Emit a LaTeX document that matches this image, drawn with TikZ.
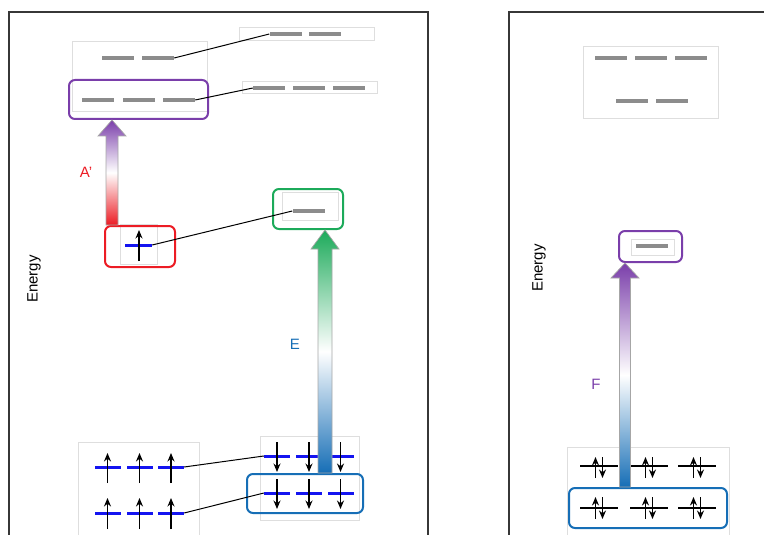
\documentclass[tikz,border=0pt]{standalone}
\usepackage{fontspec}
\setmainfont{Liberation Sans}
\usetikzlibrary{calc,arrows.meta}
\definecolor{cpurple}{RGB}{122,62,170}
\definecolor{cred}{RGB}{236,28,36}
\definecolor{cgreen}{RGB}{28,170,90}
\definecolor{cblue}{RGB}{22,110,182}
\definecolor{lvlgray}{RGB}{140,140,140}
\definecolor{lvlblue}{RGB}{20,20,240}
\definecolor{lightbox}{RGB}{222,222,222}
\definecolor{framec}{RGB}{55,55,55}
\tikzset{
  x=1pt, y=1pt,
  frame/.style={draw=framec, line width=1.5pt},
  lbox/.style={draw=lightbox, line width=0.6pt, inner sep=0pt},
  rbox/.style={rounded corners=6pt, line width=2pt, inner sep=0pt},
  glvl/.style={fill=lvlgray, minimum width=32pt, minimum height=3.6pt, inner sep=0pt},
  blvl/.style={fill=lvlblue, minimum width=26pt, minimum height=3pt, inner sep=0pt},
  klvl/.style={fill=black, minimum width=38pt, minimum height=2pt, inner sep=0pt},
  spin/.style={-{Stealth[length=8.5pt,width=7pt]}, line width=1.2pt},
  link/.style={draw=black, line width=1pt},
  lab/.style={font=\fontsize{15}{18}\selectfont, inner sep=0pt},
}
\newcommand\gradarrow[8]{%
  \shade[draw=gray!70, line width=0.7pt, top color=#3, bottom color=#4, middle color=white]
  let \p1=#1, \p2=#2 in
  ({\x1-#5pt},\y1) -- ({\x1-#5pt},{\y2-#7pt}) -- ({\x1-#6pt},{\y2-#7pt}) -- (\x1,\y2)
  -- ({\x1+#6pt},{\y2-#7pt}) -- ({\x1+#5pt},{\y2-#7pt}) -- ({\x1+#5pt},\y1) -- cycle;}
\begin{document}
\begin{tikzpicture}
\useasboundingbox (0,0) rectangle (764,-535);
% frames
\draw[frame] (9,-545) -- (9,-12) -- (428,-12) -- (428,-545);
\draw[frame] (509,-545) -- (509,-12) -- (775,-12);
% ---------- left panel ----------
\node[lbox, minimum width=135pt, minimum height=70pt] (tb1) at (139.5,-76) {};
\node[glvl] (t1a) at (118,-58) {};
\node[glvl] (t1b) at (158,-58) {};
\node[rbox, draw=cpurple, minimum width=139pt, minimum height=39pt] (pbox) at (138.5,-99.5) {};
\node[glvl] (t2a) at (98,-100) {};
\node[glvl] (t2b) at (138.5,-100) {};
\node[glvl] (t2c) at (179,-100) {};
\node[lbox, minimum width=135pt, minimum height=13pt] (rb1) at (306.5,-33.5) {};
\node[glvl] (r1a) at (285.5,-34) {};
\node[glvl] (r1b) at (325,-34) {};
\node[lbox, minimum width=135pt, minimum height=12pt] (rb2) at (309.5,-87) {};
\node[glvl] (r2a) at (269,-88) {};
\node[glvl] (r2b) at (309,-88) {};
\node[glvl] (r2c) at (349,-88) {};
\draw[link] (t1b.east) -- (r1a.west);
\draw[link] (t2c.east) -- (r2a.west);
% red box
\node[lbox, minimum width=37pt, minimum height=40pt] (rin) at (138.5,-244) {};
\node[rbox, draw=cred, minimum width=70pt, minimum height=41pt] (redbox) at (140,-246.5) {};
\node[blvl, minimum width=27pt] (s1) at (138.5,-245) {};
\draw[spin] (139,-261) -- (139,-230);
% green box
\node[lbox, minimum width=56pt, minimum height=28pt] (gin) at (310,-206) {};
\node[rbox, draw=cgreen, minimum width=70pt, minimum height=40pt] (greenbox) at (308,-209) {};
\node[glvl] (g1) at (308.5,-211) {};
\draw[link] (s1.east) -- (g1.west);
% bottom left box
\node[lbox, minimum width=121pt, minimum height=98pt] (bl) at (138.5,-491) {};
\foreach \i/\x in {1/107.5,2/139.5,3/171}{
  \node[blvl] (u1\i) at (\x,-467) {};
  \draw[spin] (\x,-483) -- (\x,-453);
  \node[blvl] (u2\i) at (\x,-513) {};
  \draw[spin] (\x,-529) -- (\x,-498);
}
% bottom right box
\node[lbox, minimum width=99pt, minimum height=84pt] (br) at (309.5,-478) {};
\node[rbox, draw=cblue, minimum width=116pt, minimum height=39pt] (bluebox) at (305,-493.5) {};
\foreach \i/\x in {1/277,2/309,3/340.5}{
  \node[blvl] (d1\i) at (\x,-456) {};
  \draw[spin] (\x,-442) -- (\x,-472);
  \node[blvl] (d2\i) at (\x,-493) {};
  \draw[spin] (\x,-479) -- (\x,-509);
}
\draw[link] (u13.east) -- (d11.west);
\draw[link] (u23.east) -- (d21.west);
% transition arrows left
\gradarrow{($(redbox.north west)+(8,0)$)}{(pbox.south)}{cpurple}{cred}{6}{14}{16}{}
\gradarrow{($(bluebox.north)+(20,0)$)}{(greenbox.south)}{cgreen}{cblue}{7}{14}{19}{}
\node[lab, text=cred] (lA) at (86,-172) {A’};
\node[lab, text=cblue] (lE) at (295,-344) {E};
\node[lab, rotate=90] (en1) at (34,-279) {Energy};
% ---------- right panel ----------
\node[lbox, minimum width=135pt, minimum height=72pt] (rt) at (650.5,-82) {};
\node[glvl] (q1a) at (611,-58) {};
\node[glvl] (q1b) at (651,-58) {};
\node[glvl] (q1c) at (691,-58) {};
\node[glvl] (q2a) at (632,-101) {};
\node[glvl] (q2b) at (672,-101) {};
\node[lbox, minimum width=43pt, minimum height=16pt] (pin) at (652.5,-247) {};
\node[rbox, draw=cpurple, minimum width=63pt, minimum height=31pt] (pbox2) at (650.5,-246.5) {};
\node[glvl] (q3) at (651.5,-246) {};
\node[lbox, minimum width=162pt, minimum height=93pt] (rb) at (648,-493.5) {};
\node[rbox, draw=cblue, minimum width=158pt, minimum height=40pt] (bluebox2) at (648,-508) {};
\foreach \i/\x in {1/599,2/649,3/697}{
  \node[klvl] (k1\i) at (\x,-466) {};
  \draw[spin] (\x-3.5,-478) -- (\x-3.5,-457);
  \draw[spin] (\x+3.5,-457) -- (\x+3.5,-478);
  \node[klvl] (k2\i) at (\x,-508) {};
  \draw[spin] (\x-3.5,-519) -- (\x-3.5,-497);
  \draw[spin] (\x+3.5,-497) -- (\x+3.5,-519);
}
\gradarrow{($(bluebox2.north west)+(57,0)$)}{(pbox2.south)}{cpurple}{cblue}{5.5}{14}{15}{}
\node[lab, text=cpurple] (lF) at (596,-384) {F};
\node[lab, rotate=90] (en2) at (539,-268) {Energy};
\end{tikzpicture}
\end{document}
